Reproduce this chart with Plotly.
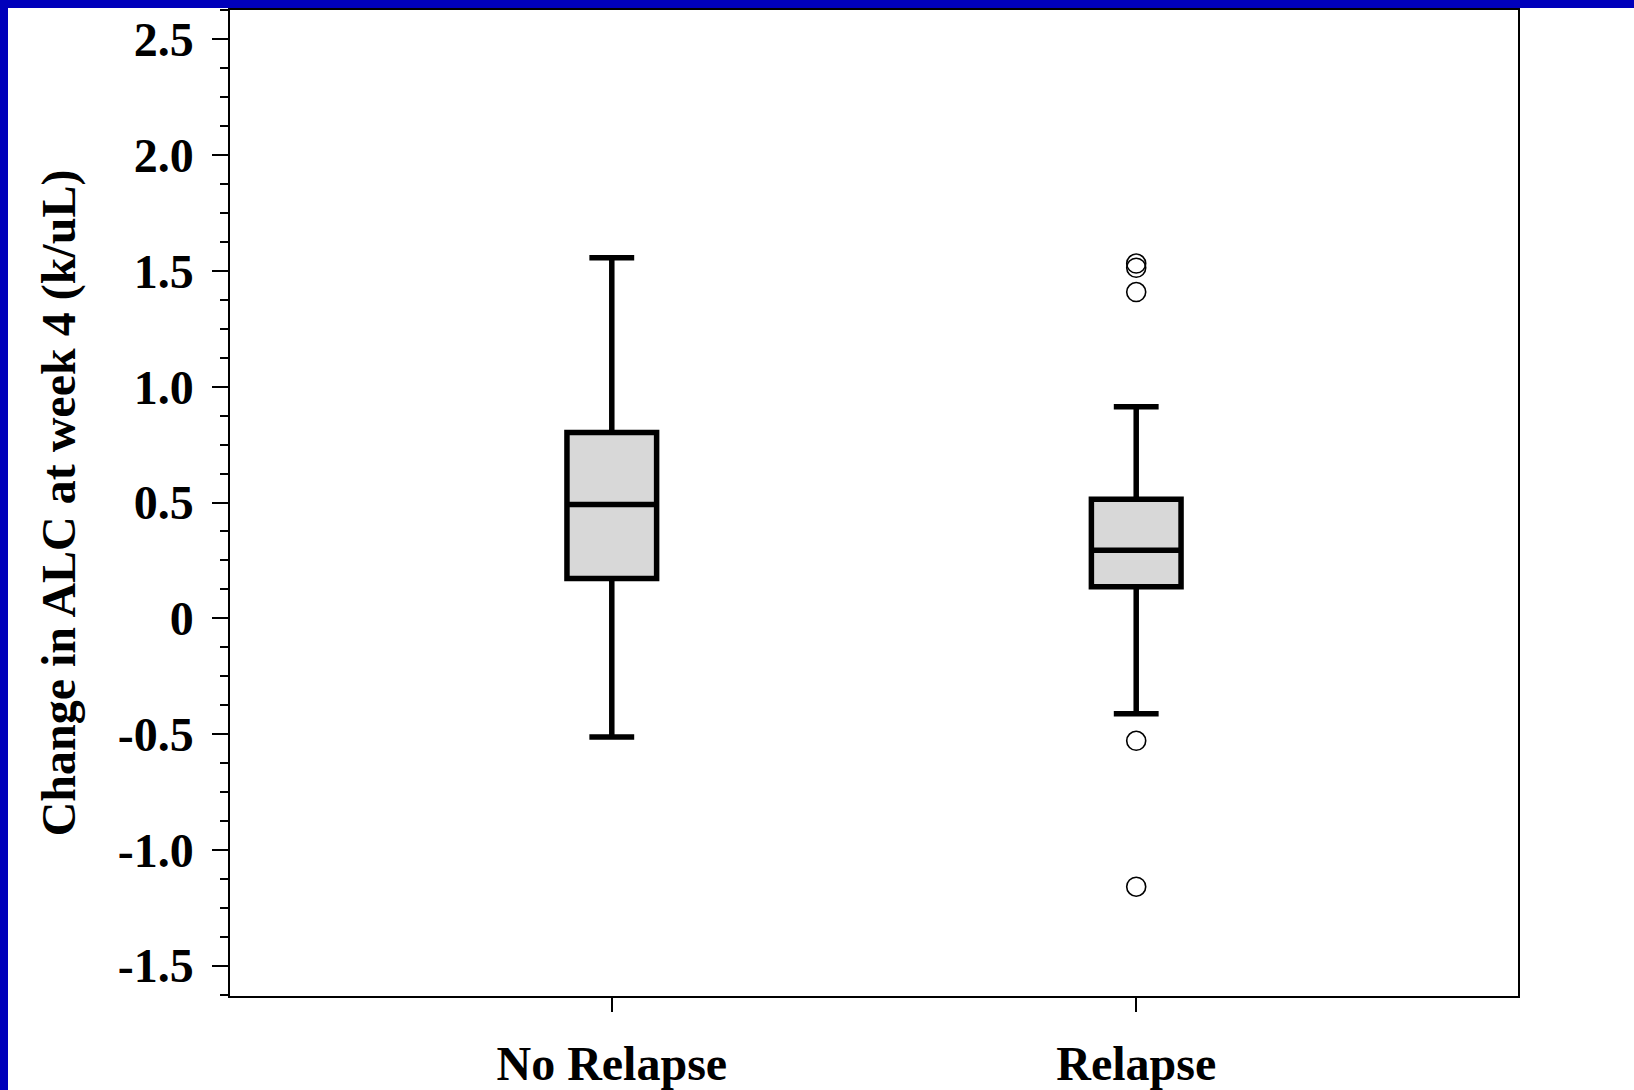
import plotly.graph_objects as go

# ---- data ----
categories = ["No Relapse", "Relapse"]
cat_pos = [0, 1]
q1_vals = [0.172, 0.136]
median_vals = [0.491, 0.294]
q3_vals = [0.802, 0.514]
lower_whisker = [-0.512, -0.412]
upper_whisker = [1.557, 0.914]
outlier_group = [1, 1, 1, 1, 1]
outlier_vals = [1.532, 1.514, 1.409, -0.529, -1.159]
ytick_vals = [2.5, 2.0, 1.5, 1.0, 0.5, 0, -0.5, -1.0, -1.5]
ytick_text = ["2.5", "2.0", "1.5", "1.0", "0.5", "0", "-0.5", "-1.0", "-1.5"]
y_title = "Change in ALC at week 4 (k/uL)"

W, H = 1634, 1090
ML, MR, MT, MB = 230, 116, 10, 94
PW, PH = W - ML - MR, H - MT - MB

FONT = dict(family="Liberation Serif, Times New Roman, serif", size=48, color="black", weight="bold")

fig = go.Figure()
fig.add_trace(go.Box(
    x=cat_pos, q1=q1_vals, median=median_vals, q3=q3_vals,
    lowerfence=lower_whisker, upperfence=upper_whisker,
    width=0.171, whiskerwidth=0.5, boxpoints=False,
    fillcolor="#D8D8D8", line=dict(color="black", width=5.5),
    showlegend=False, hoverinfo="skip",
))
fig.add_trace(go.Scatter(
    x=outlier_group, y=outlier_vals, mode="markers",
    marker=dict(symbol="circle-open", size=19, color="black", line=dict(width=1.6, color="black")),
    showlegend=False, hoverinfo="skip",
))

# blue frame bars (top and left)
bw = 8
fig.add_shape(type="rect", xref="paper", yref="paper",
              x0=-ML / PW, x1=(bw - ML) / PW, y0=-MB / PH, y1=(PH + MT) / PH,
              fillcolor="#0000BB", line=dict(width=0), layer="above")
fig.add_shape(type="rect", xref="paper", yref="paper",
              x0=-ML / PW, x1=(W - ML) / PW, y0=(PH + MT - bw) / PH, y1=(PH + MT) / PH,
              fillcolor="#0000BB", line=dict(width=0), layer="above")

fig.update_layout(
    width=W, height=H,
    margin=dict(l=ML, r=MR, t=MT, b=MB, autoexpand=False),
    paper_bgcolor="white", plot_bgcolor="white",
    font=FONT, showlegend=False,
    xaxis=dict(
        range=[-0.728, 1.728], tickmode="array", tickvals=cat_pos, ticktext=categories,
        ticks="outside", ticklen=14, tickwidth=1.5, tickcolor="black",
        showline=True, mirror=True, linecolor="black", linewidth=1.5,
        showgrid=False, zeroline=False, tickfont=FONT, ticklabelstandoff=11,
    ),
    yaxis=dict(
        range=[-1.631, 2.627], tickmode="array", tickvals=ytick_vals, ticktext=ytick_text,
        ticks="outside", ticklen=16, tickwidth=1.5, tickcolor="black",
        minor=dict(tickmode="linear", tick0=0, dtick=0.125, ticks="outside", ticklen=8,
                   tickwidth=1.5, tickcolor="black", showgrid=False),
        showline=True, mirror=True, linecolor="black", linewidth=1.5,
        showgrid=False, zeroline=False, tickfont=FONT, ticklabelstandoff=9,
        title=dict(text=y_title, font=FONT, standoff=27),
    ),
)

fig.write_html("out.html")
